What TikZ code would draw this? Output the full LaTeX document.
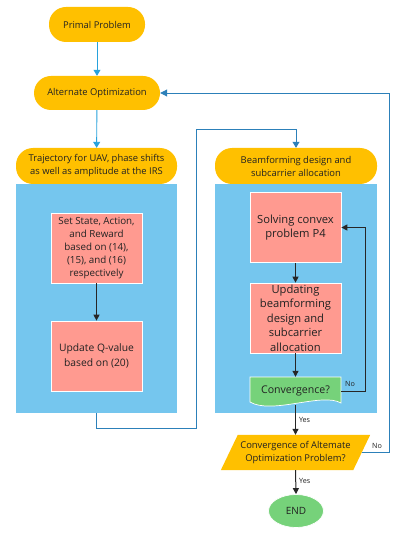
\documentclass[tikz,border=0pt]{standalone}
\usepackage{fontspec}
\setmainfont{Open Sans}
\usetikzlibrary{arrows.meta,shapes.geometric}
\definecolor{orng}{HTML}{FFC000}
\definecolor{bgblue}{HTML}{75C6EE}
\definecolor{pinkb}{HTML}{FF9A90}
\definecolor{greenb}{HTML}{76D27A}
\definecolor{lblue}{HTML}{27A2DC}
\definecolor{dblue}{HTML}{2C80B9}
\definecolor{txt}{HTML}{222222}
\tikzset{
  stad/.style={fill=orng, rounded corners=17pt, align=center, text=txt, font=\fontsize{9.4}{13}\selectfont, inner sep=0pt},
  bgbox/.style={fill=bgblue, inner sep=0pt},
  pbox/.style={fill=pinkb, draw=white, line width=0.7pt, align=center, text=txt, minimum width=91pt, minimum height=70pt, inner sep=0pt},
  barrow/.style={draw=lblue, line width=0.9pt, -{Triangle[width=7pt,length=6pt]}},
  loopline/.style={draw=dblue, line width=0.9pt},
  karrow/.style={draw=black!85, line width=1pt, -{Triangle[width=6pt,length=6pt]}},
  lab/.style={font=\fontsize{7.2}{8}\selectfont, text=txt, inner sep=0pt},
}
\begin{document}
\begin{tikzpicture}[x=1pt,y=-1pt]
\useasboundingbox[fill=white] (0,0) rectangle (415,537);
% top nodes
\node[stad, minimum width=96pt, minimum height=35pt] (primal) at (97,24.5) {Primal Problem};
\node[stad, minimum width=126pt, minimum height=34pt] (altopt) at (97,93) {Alternate Optimization};
% left column
\node[bgbox, minimum width=161pt, minimum height=229pt] (lbg) at (96.5,298.5) {};
\node[stad, minimum width=161pt, minimum height=36pt] (traj) at (96.5,166) {Trajectory for UAV, phase shifts\\as well as amplitude at the IRS};
\node[pbox, font=\fontsize{9.8}{12.9}\selectfont] (setst) at (96.5,248) {Set State, Action,\\and Reward\\based on (14),\\(15), and (16)\\respectively};
\node[pbox, font=\fontsize{10.3}{14.5}\selectfont] (updq) at (96.5,356) {Update Q-value\\based on (20)};
% right column
\node[bgbox, minimum width=162pt, minimum height=229pt] (rbg) at (296,298.5) {};
\node[stad, minimum width=162pt, minimum height=36pt] (beam) at (296,166) {Beamforming design and\\subcarrier allocation};
\node[pbox, font=\fontsize{11.2}{14.5}\selectfont] (solve) at (295.5,227.5) {Solving convex\\problem P4};
\node[pbox, font=\fontsize{11.2}{14.5}\selectfont] (upd) at (295.5,318) {Updating\\beamforming\\design and\\subcarrier\\allocation};
% convergence (tape shape)
\fill[greenb, draw=white, line width=0.7pt] (250,377) -- (341,377) -- (341,403)
  .. controls (322,392) and (272,415) .. (250,402) -- cycle;
\node[text=txt, font=\fontsize{10.6}{12}\selectfont, minimum width=91pt, minimum height=28pt, inner sep=0pt] (conv) at (295.5,391) {Convergence?};
% decision parallelogram
\node[minimum width=132pt, minimum height=35pt, inner sep=0pt] (dec) at (295.5,452.5) {};
\fill[orng] ([xshift=-8.5pt]dec.south west) -- ([xshift=-8.5pt]dec.south east) -- ([xshift=8.5pt]dec.north east) -- ([xshift=8.5pt]dec.north west) -- cycle;
\node[text=txt, align=center, font=\fontsize{9.4}{13}\selectfont, inner sep=0pt] (dect) at (dec.center) {Convergence of Altemate\\Optimization Problem?};
% end
\node[ellipse, fill=greenb, draw=white, line width=0.7pt, minimum width=55pt, minimum height=33pt, inner sep=0pt, text=txt, font=\fontsize{10}{11}\selectfont] (endn) at (296,511) {END};
% coordinates for loops
\coordinate (a1) at (196,428);
\coordinate (a2) at (196,129);
\coordinate (n1) at (365,391);
\coordinate (n2) at (389,452.5);
% connectors
\draw[barrow] (primal) -- (altopt);
\draw[barrow] (altopt) -- (traj);
\draw[loopline] (lbg.south) |- (a1) -- (a2);
\draw[loopline, -{Triangle[width=7pt,length=6pt]}] (a2) -| (beam.north);
\draw[karrow] (setst) -- (updq);
\draw[karrow] (solve) -- (upd);
\draw[karrow] (upd) -- (conv);
\draw[line width=1pt, draw=black!85, -{Triangle[width=6pt,length=6pt]}] (conv.east) -- (n1) |- (solve.east);
\draw[karrow] (conv.south) -- node[lab, right=3pt, pos=0.5] (y1) {Yes} (dec.north);
\draw[loopline, -{Triangle[width=7pt,length=7pt]}] (dec.east) -- (n2) |- (altopt.east);
\draw[karrow] (dec.south) -- node[lab, right=3pt, pos=0.45] (y2) {Yes} (endn.north);
\node[lab] (no1) at (350,384) {No};
\node[lab] (no2) at (377,445.5) {No};
\end{tikzpicture}
\end{document}
